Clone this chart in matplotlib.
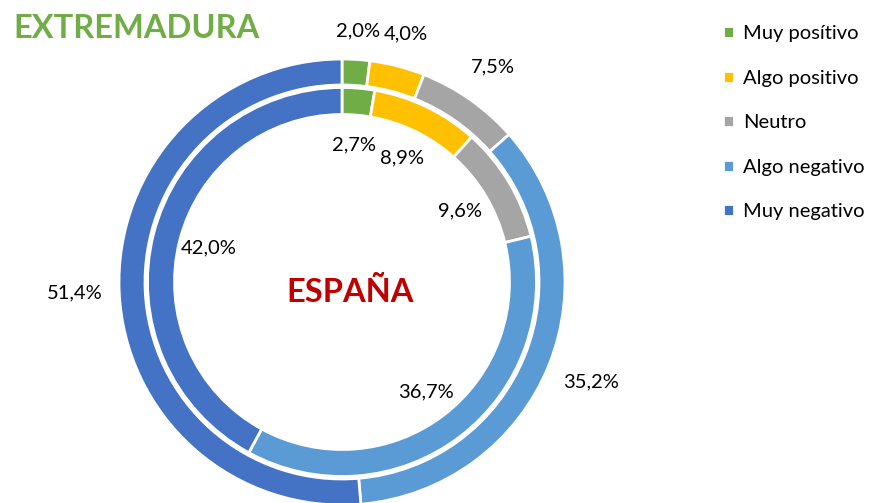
import numpy as np
import matplotlib
matplotlib.use('Agg')
import matplotlib.pyplot as plt

# datos (porcentajes)
leyenda = ['Muy posítivo', 'Algo positivo', 'Neutro', 'Algo negativo', 'Muy negativo']
extremadura = [2.0, 4.0, 7.5, 35.2, 51.4]
espana = [2.7, 8.9, 9.6, 36.7, 42.0]
colores = ['#70AD47', '#FFC000', '#A5A5A5', '#5B9BD5', '#4472C4']

plt.rcParams['font.family'] = ['Lato', 'DejaVu Sans']

W, H = 881, 503
fig = plt.figure(figsize=(W / 100, H / 100), dpi=100)
cx, cy, half = 342, 282, 260  # centro del anillo en pixeles
ax = fig.add_axes([(cx - half) / W, (H - cy - half) / H, 2 * half / W, 2 * half / H])

borde = dict(edgecolor='white', linewidth=2)
r_ext, ancho_ext = 223, 26
r_esp, ancho_esp = 194.5, 27

w_ext, _ = ax.pie(extremadura, radius=r_ext, colors=colores, startangle=90, counterclock=False,
                  wedgeprops=dict(width=ancho_ext, **borde))
w_esp, _ = ax.pie(espana, radius=r_esp, colors=colores, startangle=90, counterclock=False,
                  wedgeprops=dict(width=ancho_esp, **borde))
ax.set_xlim(-half, half)
ax.set_ylim(-half, half)
ax.axis('off')


def fmt(v):
    return '{:.1f}%'.format(v).replace('.', ',')


# etiquetas exteriores (Extremadura)
for w, v in zip(w_ext, extremadura):
    ang = np.deg2rad((w.theta1 + w.theta2) / 2)
    d = r_ext + 19 + 25 * abs(np.cos(ang)) + 8 * abs(np.sin(ang))
    ax.text(d * np.cos(ang), d * np.sin(ang), fmt(v), ha='center', va='center', fontsize=14.5)

# etiquetas interiores (España)
for w, v in zip(w_esp, espana):
    ang = np.deg2rad((w.theta1 + w.theta2) / 2)
    d = 138
    ax.text(d * np.cos(ang), d * np.sin(ang), fmt(v), ha='center', va='center', fontsize=14.5)

fig.text(13 / W, 1 - 38 / H, 'EXTREMADURA', color='#70AD47', fontsize=23.5, fontweight='bold',
         ha='left', va='baseline')
fig.text(350 / W, 1 - 302 / H, 'ESPAÑA', color='#C00000', fontsize=23.5, fontweight='bold',
         ha='center', va='baseline')

fig.legend(handles=w_ext, labels=leyenda, loc='upper left', bbox_to_anchor=(705 / W, 1 - 7 / H),
           frameon=False, fontsize=14.5, handlelength=0.55, handleheight=0.55, handletextpad=0.45,
           labelspacing=1.37)

fig.savefig('out.png', dpi=100)
